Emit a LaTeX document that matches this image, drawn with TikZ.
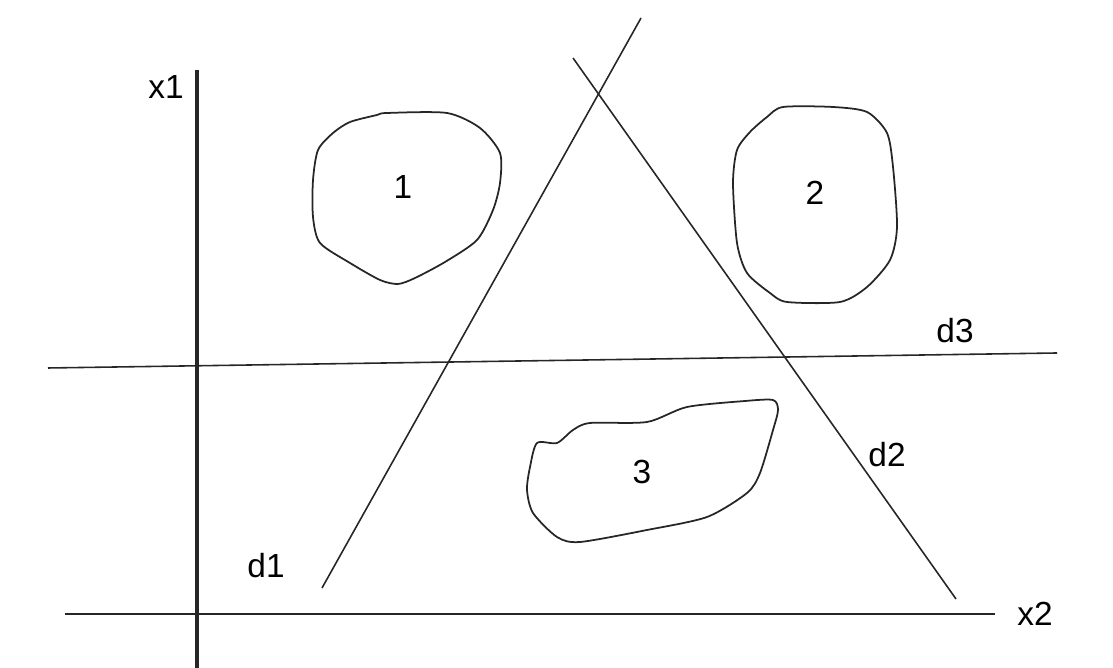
\documentclass[tikz,border=0pt]{standalone}
\usepackage{fontspec}
\setmainfont{Liberation Sans}
\usepackage{tikz}
\usetikzlibrary{positioning}
\tikzset{
  thinline/.style={draw=black!85, line width=0.45pt},
  region/.style={draw=black!85, line width=0.5pt, smooth cycle, tension=0.45},
  lbl/.style={inner sep=0pt, font=\fontsize{9.5}{11}\selectfont}
}

\begin{document}
\begin{tikzpicture}[x=0.01cm, y=-0.01cm]
  \useasboundingbox (0,0) rectangle (1113,668);
  % axes
  \coordinate (x1top) at (197,70);
  \coordinate (x1bot) at (197,668);
  \coordinate (x2l) at (65,614);
  \coordinate (x2r) at (995,614);
  \draw[draw=black!85, line width=1.1pt] (x1top) -- (x1bot);
  \draw[thinline] (x2l) -- (x2r);
  \node[lbl] (labx1) at (166,87) {x1};
  \node[lbl] (labx2) at (1035,614) {x2};
  % separating lines
  \coordinate (d1a) at (322,588);
  \coordinate (d1b) at (641,18);
  \coordinate (d2a) at (573,58);
  \coordinate (d2b) at (956,599);
  \coordinate (d3a) at (48,368);
  \coordinate (d3b) at (1057,353);
  \draw[thinline] (d1a) -- (d1b);
  \draw[thinline] (d2a) -- (d2b);
  \draw[thinline] (d3a) -- (d3b);
  \node[lbl] (labd1) at (266,566) {d1};
  \node[lbl] (labd2) at (887,455) {d2};
  \node[lbl] (labd3) at (955,331) {d3};
  % class regions
  \draw[region] plot coordinates {(387,113) (447,113) (480,128) (500,153) (500,183)
    (493,210) (477,240) (445,262) (415,278) (398,284) (380,280) (350,263)
    (320,243) (313,217) (313,180) (318,150) (333,133) (350,122) (377,115)};
  \node[lbl] (c1) at (403,187) {1};
  \draw[region] plot coordinates {(783,107) (833,107) (867,112) (887,133) (893,167)
    (897,227) (890,260) (867,287) (840,302) (787,302) (770,293) (747,273)
    (737,243) (733,183) (737,150) (750,132) (767,117)};
  \node[lbl] (c2) at (815,193) {2};
  \draw[region] plot coordinates {(537,443) (557,443) (573,430) (590,423) (647,422)
    (687,407) (745,401) (773,400) (778,410) (773,430) (760,473) (747,493)
    (707,517) (647,530) (580,542) (557,537) (533,513) (527,490) (530,467)};
  \node[lbl] (c3) at (642,472) {3};
\end{tikzpicture}
\end{document}
